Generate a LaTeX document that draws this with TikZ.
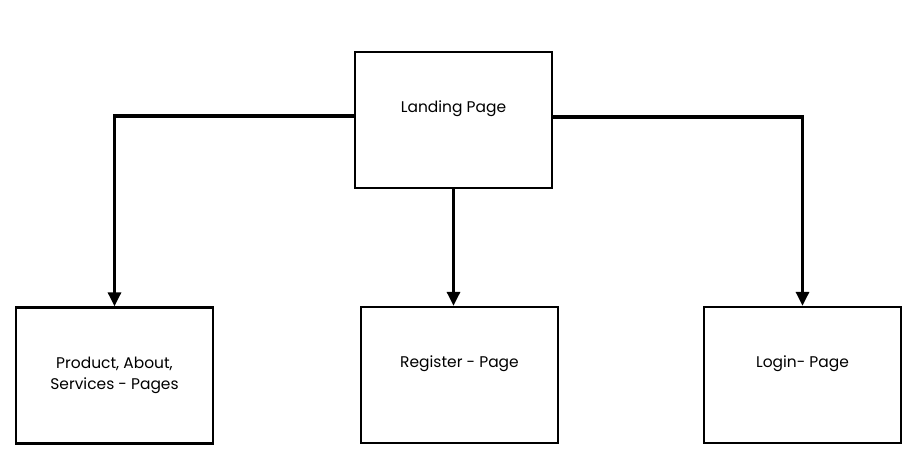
\documentclass[tikz,border=0pt]{standalone}
\usepackage{fontspec}
\setmainfont{Poppins}
\usetikzlibrary{arrows.meta}

\begin{document}
\begin{tikzpicture}[
    >={Triangle[length=0.35cm, width=0.32cm]},
    page/.style={draw, rectangle, line width=1.6pt, minimum width=4.925cm, minimum height=3.4cm, align=center, font=\fontsize{11}{15}\selectfont},
    link/.style={line width=2.8pt, ->}
]
  \useasboundingbox (0,0) rectangle (22.975,-11.7);

  % Site map
  \node[page, text depth=0.65cm] (land) at (11.3375,-3.0) {Landing Page};
  \node[page] (prod) at (2.8625,-9.3875) {Product, About,\\Services - Pages};
  \node[page, text depth=0.65cm] (reg) at (11.4875,-9.375) {Register - Page};
  \node[page, text depth=0.65cm] (login) at (20.0625,-9.375) {Login- Page};

  \draw[link] ([yshift=0.1cm]land.west) -| (prod.north);
  \draw[link] (land.south) -- (land.south |- reg.north);
  \draw[link] ([yshift=0.08cm]land.east) -| (login.north);
\end{tikzpicture}
\end{document}
